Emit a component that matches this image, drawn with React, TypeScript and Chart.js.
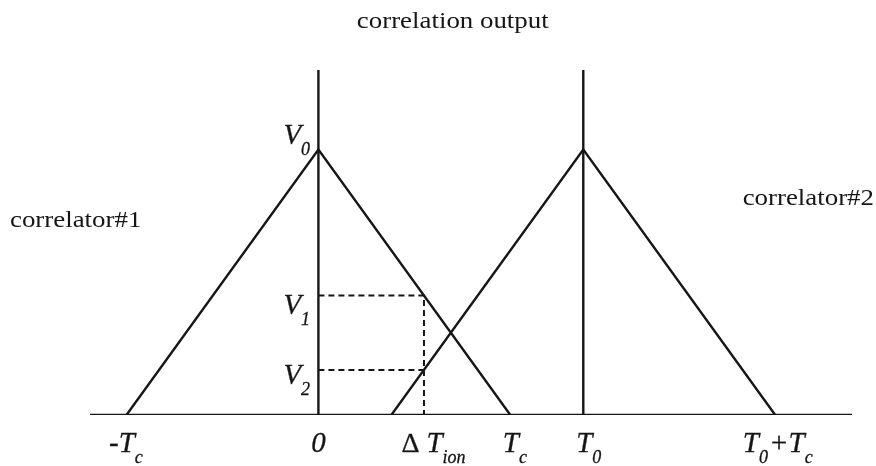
import { useEffect, useRef } from 'react';
import { Chart, registerables } from 'chart.js';

Chart.register(...registerables);

// Chip period, offset of the second correlator, ionospheric delay, peak value
const TC = 1;
const T0 = 1.38;
const DT_ION = 0.55;
const V0 = 1;
const AXIS_TOP = 1.3;
const X_MIN = -1.19;
const X_MAX = 2.78;

const triangle1X = [-TC, 0, TC];
const triangle1Y = [0, V0, 0];
const triangle2X = [T0 - TC, T0, T0 + TC];
const triangle2Y = [0, V0, 0];

// Outputs of the two correlators at the delay ΔT_ion
const V1 = V0 * (1 - DT_ION / TC);
const V2 = (V0 * (DT_ION - (T0 - TC))) / TC;

type Run = { t: string; sub?: boolean; upright?: boolean };

const tickValues = [-TC, 0, DT_ION, TC, T0, T0 + TC];
const tickLabels: Run[][] = [
  [{ t: '-T' }, { t: 'c', sub: true }],
  [{ t: '0' }],
  [{ t: 'Δ ', upright: true }, { t: 'T' }, { t: 'ion', sub: true }],
  [{ t: 'T' }, { t: 'c', sub: true }],
  [{ t: 'T' }, { t: '0', sub: true }],
  [{ t: 'T' }, { t: '0', sub: true }, { t: '+T' }, { t: 'c', sub: true }],
];
const tickShift = [0, 0, 10, 5, 6, 3];

const levelValues = [V0, V1, V2];
const levelLabels: Run[][] = [
  [{ t: 'V' }, { t: '0', sub: true }],
  [{ t: 'V' }, { t: '1', sub: true }],
  [{ t: 'V' }, { t: '2', sub: true }],
];
const levelBaseline = [-6, 18, 14];

const SERIF = '"Liberation Serif", "Times New Roman", serif';
const INK = '#161616';

const pts = (xs: number[], ys: number[]) => xs.map((x, i) => ({ x, y: ys[i] }));

function fontFor(r: Run) {
  if (r.sub) return `italic 18px ${SERIF}`;
  if (r.upright) return `28px ${SERIF}`;
  return `italic 29px ${SERIF}`;
}

function runsWidth(ctx: CanvasRenderingContext2D, runs: Run[]) {
  let w = 0;
  for (const r of runs) {
    ctx.font = fontFor(r);
    w += ctx.measureText(r.t).width + (r.sub ? 1 : 0);
  }
  return w;
}

function drawRuns(ctx: CanvasRenderingContext2D, runs: Run[], x: number, y: number) {
  let cx = x;
  for (const r of runs) {
    ctx.font = fontFor(r);
    const yy = r.sub ? y + 11 : y;
    ctx.fillText(r.t, cx, yy);
    ctx.strokeText(r.t, cx, yy);
    cx += ctx.measureText(r.t).width + (r.sub ? 1 : 0);
  }
}

function plainText(ctx: CanvasRenderingContext2D, text: string, x: number, y: number, align: CanvasTextAlign) {
  ctx.save();
  ctx.font = `24px ${SERIF}`;
  ctx.textAlign = align;
  ctx.translate(x, y);
  ctx.scale(1.12, 1);
  ctx.fillText(text, 0, 0);
  ctx.restore();
}

const labelPlugin = {
  id: 'diagramLabels',
  afterDraw(chart: Chart) {
    const ctx = chart.ctx;
    const xs = chart.scales.x;
    const ys = chart.scales.y;
    const area = chart.chartArea;
    const base = ys.getPixelForValue(0);
    ctx.save();
    ctx.fillStyle = INK;
    ctx.strokeStyle = INK;
    ctx.lineWidth = 0.3;
    ctx.textBaseline = 'alphabetic';
    ctx.textAlign = 'left';

    tickValues.forEach((v, i) => {
      const runs = tickLabels[i];
      const w = runsWidth(ctx, runs);
      const cx = xs.getPixelForValue(v) + tickShift[i];
      drawRuns(ctx, runs, cx - w / 2, base + 37);
    });

    const axisX = xs.getPixelForValue(0);
    levelValues.forEach((v, i) => {
      drawRuns(ctx, levelLabels[i], axisX - 35, ys.getPixelForValue(v) + levelBaseline[i]);
    });

    plainText(ctx, 'correlation output', xs.getPixelForValue(0.7), 28, 'center');
    plainText(ctx, 'correlator#1', 10, area.top + 157, 'left');
    plainText(ctx, 'correlator#2', 874, area.top + 135, 'right');
    ctx.restore();
  },
};

export default function App() {
  const ref = useRef<HTMLCanvasElement>(null);

  useEffect(() => {
    document.body.style.margin = '0';
    const canvas = ref.current;
    if (!canvas) return;

    const solid = { borderColor: INK, borderWidth: 2.4, pointRadius: 0, showLine: true, tension: 0, fill: false };
    const dashed = { ...solid, borderWidth: 2, borderDash: [6, 4] };

    const chart = new Chart(canvas, {
      type: 'scatter',
      data: {
        datasets: [
          { ...solid, data: pts([X_MIN, X_MAX], [0, 0]) },
          { ...solid, data: pts([0, 0], [0, AXIS_TOP]) },
          { ...solid, data: pts([T0, T0], [0, AXIS_TOP]) },
          { ...solid, data: pts(triangle1X, triangle1Y) },
          { ...solid, data: pts(triangle2X, triangle2Y) },
          { ...dashed, data: pts([0, DT_ION, DT_ION], [V1, V1, 0]) },
          { ...dashed, data: pts([0, DT_ION], [V2, V2]) },
        ],
      },
      options: {
        responsive: false,
        animation: false,
        layout: { padding: { left: 90, right: 24, top: 70, bottom: 51 } },
        plugins: { legend: { display: false }, tooltip: { enabled: false } },
        scales: {
          x: { type: 'linear', min: X_MIN, max: X_MAX, display: false },
          y: { type: 'linear', min: 0, max: AXIS_TOP, display: false },
        },
      },
      plugins: [labelPlugin],
    });

    return () => chart.destroy();
  }, []);

  return <canvas ref={ref} width={876} height={466} style={{ display: 'block', background: '#fff' }} />;
}
